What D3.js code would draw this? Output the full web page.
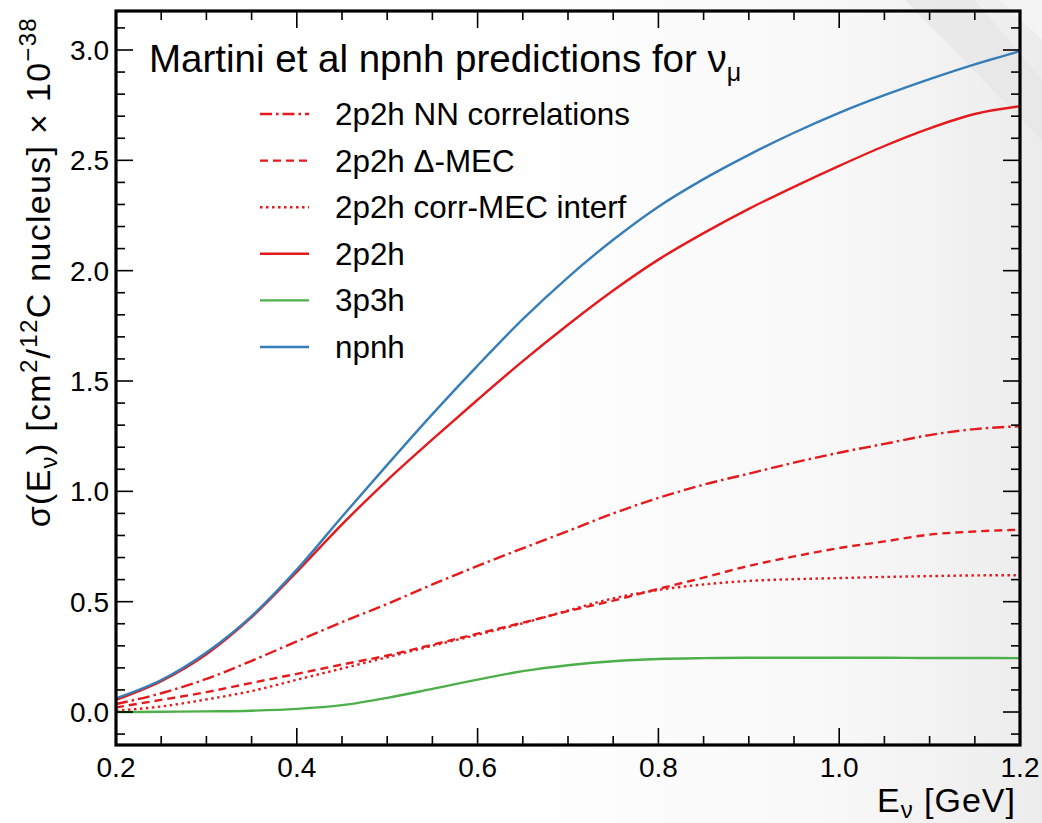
<!DOCTYPE html>
<html>
<head>
<meta charset="utf-8">
<script src="https://cdn.jsdelivr.net/npm/d3@7"></script>
<style>
  html, body { margin: 0; padding: 0; background: #ffffff; }
  svg { display: block; }
  text { font-family: "Liberation Sans", Arial, Helvetica, sans-serif; fill: #000; }
</style>
</head>
<body>
<svg id="chart" width="1042" height="823"></svg>
<script>
// ---- data ----
const energy = [0.2, 0.25, 0.3, 0.35, 0.4, 0.45, 0.5, 0.55, 0.6, 0.65, 0.7, 0.75, 0.8, 0.85, 0.9, 0.95, 1.0, 1.05, 1.1, 1.15, 1.2];
const nnCorrelations = [0.036, 0.085, 0.15, 0.232, 0.32, 0.407, 0.49, 0.578, 0.662, 0.742, 0.82, 0.90, 0.97, 1.03, 1.08, 1.13, 1.175, 1.215, 1.255, 1.282, 1.295];
const deltaMEC = [0.021, 0.055, 0.09, 0.132, 0.173, 0.215, 0.256, 0.305, 0.355, 0.405, 0.457, 0.505, 0.558, 0.609, 0.662, 0.705, 0.743, 0.773, 0.804, 0.818, 0.826];
const corrMECInterf = [0.006, 0.025, 0.057, 0.095, 0.146, 0.197, 0.248, 0.30, 0.35, 0.402, 0.46, 0.515, 0.553, 0.578, 0.594, 0.602, 0.607, 0.612, 0.616, 0.619, 0.62];
const twoP2h = [0.055, 0.14, 0.262, 0.43, 0.635, 0.85, 1.05, 1.235, 1.415, 1.59, 1.755, 1.91, 2.05, 2.17, 2.28, 2.38, 2.475, 2.565, 2.645, 2.71, 2.745];
const threeP3h = [0.0, 0.001, 0.003, 0.006, 0.014, 0.031, 0.064, 0.105, 0.147, 0.185, 0.212, 0.23, 0.24, 0.244, 0.246, 0.246, 0.246, 0.246, 0.245, 0.245, 0.244];
const npnh = [0.062, 0.145, 0.27, 0.435, 0.645, 0.885, 1.12, 1.35, 1.57, 1.78, 1.97, 2.14, 2.29, 2.415, 2.525, 2.625, 2.715, 2.795, 2.868, 2.935, 2.995];

const xTickLabels = ["0.2", "0.4", "0.6", "0.8", "1.0", "1.2"];
const yTickLabels = ["0.0", "0.5", "1.0", "1.5", "2.0", "2.5", "3.0"];

const seriesNames = ["2p2h NN correlations", "2p2h \u0394-MEC", "2p2h corr-MEC interf", "2p2h", "3p3h", "npnh"];
const seriesValues = [nnCorrelations, deltaMEC, corrMECInterf, twoP2h, threeP3h, npnh];
const seriesColors = ["#e41a1c", "#e41a1c", "#e41a1c", "#e41a1c", "#4daf4a", "#377eb8"];
const seriesDash = ["12,4,2.5,4", "8,5", "2.5,3.5", null, null, null];

// ---- layout ----
const W = 1042, H = 823;
const plot = { left: 116, right: 1020, top: 11, bottom: 745 };

const svg = d3.select("#chart");

// faint background watermark shading
const defs = svg.append("defs");
const grad = defs.append("linearGradient").attr("id", "bgGrad").attr("x1", "0").attr("x2", "1").attr("y1", "0").attr("y2", "0");
grad.append("stop").attr("offset", "0.45").attr("stop-color", "#ffffff");
grad.append("stop").attr("offset", "0.8").attr("stop-color", "#f8f8f8");
grad.append("stop").attr("offset", "1").attr("stop-color", "#ececec");
svg.append("rect").attr("width", W).attr("height", H).attr("fill", "url(#bgGrad)");
svg.append("path").attr("d", "M905,0 L975,0 L1042,80 L1042,140 Z").attr("fill", "#e6e6e6").attr("opacity", 0.7);
svg.append("path").attr("d", "M1000,0 L1042,0 L1042,40 Z").attr("fill", "#f4f4f4");

const x = d3.scaleLinear().domain([0.2, 1.2]).range([plot.left, plot.right]);
const y = d3.scaleLinear().domain([-0.1495, 3.1767]).range([plot.bottom, plot.top]);

// ---- curves ----
const line = d3.line()
  .x(d => x(d[0]))
  .y(d => y(d[1]))
  .curve(d3.curveMonotoneX);

const gLines = svg.append("g");
seriesValues.forEach((vals, i) => {
  const pts = energy.map((e, j) => [e, vals[j]]);
  const p = gLines.append("path")
    .datum(pts)
    .attr("d", line)
    .attr("fill", "none")
    .attr("stroke", seriesColors[i])
    .attr("stroke-width", 2.4)
    .attr("stroke-linejoin", "round");
  if (seriesDash[i]) p.attr("stroke-dasharray", seriesDash[i]);
});

// ---- axes (ROOT style: ticks inside on all four sides) ----
const majorLen = 17, minorLen = 9;
const xMajor = xTickLabels.map(Number);
const xMinor = d3.range(0.25, 1.2, 0.05).map(v => Math.round(v * 100) / 100).filter(v => !xMajor.some(m => Math.abs(m - v) < 1e-6));
const yMajor = yTickLabels.map(Number);
const yMinor = d3.range(-0.1, 3.1501, 0.1).map(v => Math.round(v * 10) / 10).filter(v => !yMajor.some(m => Math.abs(m - v) < 1e-6));

const gAxes = svg.append("g").attr("stroke", "#000").attr("stroke-width", 1.6);

function xTicks(vals, len) {
  vals.forEach(v => {
    gAxes.append("line").attr("x1", x(v)).attr("x2", x(v)).attr("y1", plot.bottom).attr("y2", plot.bottom - len);
    gAxes.append("line").attr("x1", x(v)).attr("x2", x(v)).attr("y1", plot.top).attr("y2", plot.top + len);
  });
}
function yTicks(vals, len) {
  vals.forEach(v => {
    gAxes.append("line").attr("y1", y(v)).attr("y2", y(v)).attr("x1", plot.left).attr("x2", plot.left + len);
    gAxes.append("line").attr("y1", y(v)).attr("y2", y(v)).attr("x1", plot.right).attr("x2", plot.right - len);
  });
}
xTicks(xMajor, majorLen);
xTicks(xMinor, minorLen);
yTicks(yMajor, majorLen);
yTicks(yMinor, minorLen);

// frame
svg.append("rect")
  .attr("x", plot.left).attr("y", plot.top)
  .attr("width", plot.right - plot.left).attr("height", plot.bottom - plot.top)
  .attr("fill", "none").attr("stroke", "#000").attr("stroke-width", 3.2);

// tick labels
const gLabels = svg.append("g").style("font-size", "28px");
xTickLabels.forEach(t => {
  gLabels.append("text").attr("x", x(+t)).attr("y", 777).attr("text-anchor", "middle").text(t);
});
yTickLabels.forEach(t => {
  gLabels.append("text").attr("x", 109).attr("y", y(+t) + 10).attr("text-anchor", "end").text(t);
});

// x axis title
const xt = svg.append("text").attr("x", 1016).attr("y", 812).attr("text-anchor", "end")
  .style("font-size", "34px").style("letter-spacing", "1px");
xt.append("tspan").text("E");
xt.append("tspan").attr("dy", 6).style("font-size", "24px").text("\u03bd");
xt.append("tspan").attr("dy", -6).text(" [GeV]");

// y axis title (rotated)
const yt = svg.append("text")
  .attr("transform", "translate(50,17) rotate(-90)")
  .attr("text-anchor", "end")
  .style("font-size", "34px")
  .style("letter-spacing", "1.3px");
yt.append("tspan").text("\u03c3(E");
yt.append("tspan").attr("dy", 7).style("font-size", "24px").text("\u03bd");
yt.append("tspan").attr("dy", -7).text(") [cm");
yt.append("tspan").attr("dy", -13).style("font-size", "24px").text("2");
yt.append("tspan").attr("dy", 13).text("/");
yt.append("tspan").attr("dy", -13).style("font-size", "24px").text("12");
yt.append("tspan").attr("dy", 13).text("C nucleus] \u00d7 10");
yt.append("tspan").attr("dy", -14).style("font-size", "24px").text("\u221238");

// legend
const gLeg = svg.append("g");
const title = gLeg.append("text").attr("x", 149).attr("y", 72).style("font-size", "38.5px");
title.append("tspan").text("Martini et al npnh predictions for \u03bd");
title.append("tspan").attr("dy", 9).style("font-size", "25px").text("\u03bc");

const legY0 = 114, legStep = 46.6;
seriesNames.forEach((name, i) => {
  const ly = legY0 + i * legStep;
  const l = gLeg.append("line")
    .attr("x1", 260).attr("x2", 309).attr("y1", ly).attr("y2", ly)
    .attr("stroke", seriesColors[i]).attr("stroke-width", 2.4);
  if (seriesDash[i]) l.attr("stroke-dasharray", seriesDash[i]);
  gLeg.append("text").attr("x", 335).attr("y", ly + 11).style("font-size", "31.4px").text(name);
});
</script>
</body>
</html>
